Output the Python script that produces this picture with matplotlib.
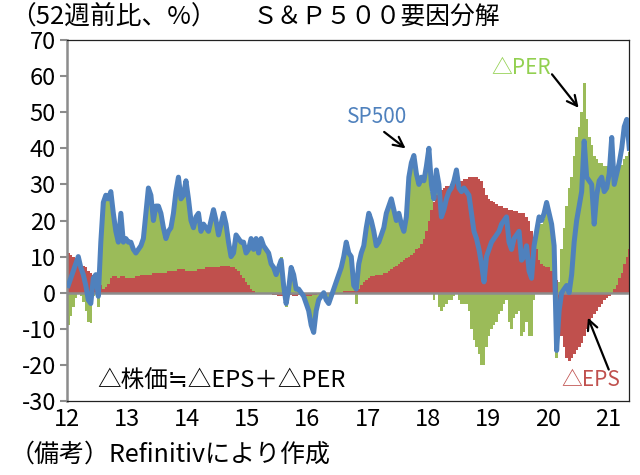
import matplotlib
matplotlib.use("Agg")
import matplotlib.pyplot as plt
import numpy as np

plt.rcParams["font.family"] = ["Noto Sans CJK JP", "DejaVu Sans"]
plt.rcParams["axes.unicode_minus"] = False

# half-monthly points from Jan 2012 to early May 2021 (52-week change, %)
start_year = 2012
steps_per_year = 24

sp500 = [
    # 2012
    2, 4, 6, 8, 10, 7, 5, 2, -2, -3, 4, 5, -1, 14, 25, 27, 26, 28, 22, 17, 14, 22, 14, 15,
    # 2013
    14, 14, 12, 11, 12, 13, 15, 22, 29, 27, 20, 24, 24, 22, 18, 15, 17, 18, 22, 28, 32, 26, 27, 31,
    # 2014
    26, 20, 18, 21, 22, 17, 19, 18, 17, 20, 23, 20, 16, 19, 22, 19, 14, 10, 11, 16, 15, 14, 14, 11,
    # 2015
    12, 15, 12, 15, 11, 15, 13, 12, 11, 8, 7, 5, 7, 9, 2, -3, 1, 7, 5, 1, 1, 0, -1, -3,
    # 2016
    -5, -9, -11, -5, -2, -1, 0, -2, -3, -1, 1, 3, 5, 7, 10, 14, 11, 10, 2, 1, 8, 11, 13, 18,
    # 2017
    22, 20, 17, 13, 14, 16, 18, 22, 24, 26, 23, 20, 22, 19, 17, 21, 32, 36, 38, 33, 30, 32, 31, 35,
    # 2018
    40, 30, 26, 34, 30, 21, 23, 26, 28, 29, 31, 34, 29, 28, 29, 28, 27, 22, 17, 15, 12, 8, 3, 10,
    # 2019
    12, 14, 15, 16, 17, 19, 20, 21, 14, 12, 15, 16, 17, 9, 10, 13, 6, 4, 13, 17, 21, 20, 22, 25,
    # 2020
    22, 19, 13, -16, -5, 0, 1, 2, 0, 5, 14, 20, 24, 28, 42, 32, 31, 30, 19, 27, 31, 32, 28, 29,
    # 2021
    33, 43, 30, 33, 36, 40, 46, 48, 40,
]

eps = [
    # 2012
    11, 10.5, 10, 9.5, 9, 8, 7.5, 7, 6, 5.5, 5, 4, 3, 2, 1, 1.5, 2.5, 4, 4.5, 4.5, 4, 4.5, 4.5, 4,
    # 2013
    4, 4, 4, 4.5, 4.5, 5, 5, 5, 5, 5, 5.5, 5.5, 5.5, 5.5, 5.5, 5.5, 6, 6, 6, 6, 6.5, 6.5, 6.5, 6,
    # 2014
    6, 6, 6, 6, 6.5, 6.5, 6.5, 7, 7, 7, 7, 7, 7, 7.5, 7.5, 7.5, 7.5, 7, 7, 6.5, 6, 5, 4, 3,
    # 2015
    2, 1, 0.5, 0, 0, 0, 0, 0, 0, 0, -0.5, -0.5, -1, -1, 0.5, 1, 1, -0.5, -1, -1, -0.5, -0.5, -1, -1,
    # 2016
    -1, -1, -0.5, -0.5, 0, 0, 0, 0, 0, 0, 0, 0, 0, 0, 0.5, 0.5, 0.5, 0.5, 0.5, 0.5, 1, 2, 3, 3.5,
    # 2017
    4, 4.5, 4.5, 5, 5, 5, 5.5, 5.5, 6, 6.5, 7, 7.5, 8, 8.5, 9, 9.5, 10, 10.5, 11, 12, 12.5, 13.5, 15, 17,
    # 2018
    20, 23, 25, 27, 28, 28.5, 29, 29.5, 29.5, 30, 30, 30.5, 31, 31, 31.5, 31.5, 32, 32, 32, 32, 31.5, 31, 29, 27,
    # 2019
    26, 25.5, 25, 24.5, 24, 24, 23.5, 23.5, 23, 23, 22.5, 22.5, 22, 22, 22, 21, 20, 17, 15, 12, 9, 8, 7.5, 7,
    # 2020
    7, 6, 5, 3.5, -6, -12, -15, -18, -19, -18, -17, -16, -15, -14, -12, -10, -9, -7, -6, -5, -4, -3, -2, -1.5,
    # 2021
    -1, 0, 1, 2, 4, 5.5, 8, 10, 12,
]

per = [
    # 2012
    -9, -6.5, -4, -1.5, 1, -1, -2.5, -5, -8, -8.5, -1, 1, -4, 12, 24, 25.5, 23.5, 24, 17.5, 12.5, 10, 17.5, 9.5, 11,
    # 2013
    10, 10, 8, 6.5, 7.5, 8, 10, 17, 24, 22, 14.5, 18.5, 18.5, 16.5, 12.5, 9.5, 11, 12, 16, 22, 25.5, 19.5, 20.5, 25,
    # 2014
    20, 14, 12, 15, 15.5, 10.5, 12.5, 11, 10, 13, 16, 13, 9, 11.5, 14.5, 11.5, 6.5, 3, 4, 9.5, 9, 9, 10, 8,
    # 2015
    10, 14, 11.5, 15, 11, 15, 13, 12, 11, 8, 7.5, 5.5, 8, 10, 1.5, -4, 0, 7.5, 6, 2, 1.5, 0.5, 0, -2,
    # 2016
    -4, -8, -10.5, -4.5, -2, -1, 0, -2, -3, -1, 1, 3, 5, 7, 9.5, 13.5, 10.5, 9.5, 1.5, -3, 7, 9, 10, 14.5,
    # 2017
    18, 15.5, 12.5, 8, 9, 11, 12.5, 16.5, 18, 19.5, 16, 12.5, 14, 10.5, 8, 11.5, 22, 25.5, 27, 21, 17.5, 18.5, 16, 18,
    # 2018
    18, 5, -2, 3, -4, -5, -4, -3, -2, -2, -1, 2, -2, -3, -3, -3, -5, -10, -13, -15, -17, -20, -20, -15,
    # 2019
    -12, -10, -9, -8, -6, -5, -3, -2, -8, -10, -7, -6, -5, -12, -11, -8, -12, -12, -2, 4, 11, 11, 13, 16,
    # 2020
    15, 13, 8, -18, 3, 12, 18, 24, 29, 32, 38, 43, 46, 50, 58, 48, 43, 41, 38, 37, 36, 36, 35, 35,
    # 2021
    36, 35, 31, 31, 30, 30, 29, 28, 27,
]

year_labels = ["12", "13", "14", "15", "16", "17", "18", "19", "20", "21"]

sp500 = np.array(sp500, dtype=float)
eps = np.array(eps, dtype=float)
per = np.array(per, dtype=float)
x = start_year + np.arange(len(sp500)) / steps_per_year
w = 1 / steps_per_year

RED = "#C0504D"
GREEN = "#9BBB59"
BLUE = "#4F81BD"

fig = plt.figure(figsize=(6.4, 4.75), dpi=100, facecolor="white")
ax = fig.add_axes([67 / 640, 74 / 475, 562 / 640, 361 / 475])

# stacked like excel: positives stack upward, negatives downward
per_bottom = np.where(per >= 0, np.maximum(eps, 0), np.minimum(eps, 0))
ax.bar(x, eps, w * 1.05, align="edge", color=RED, linewidth=0, zorder=2)
ax.bar(x, per, w * 1.05, bottom=per_bottom, align="edge", color=GREEN, linewidth=0, zorder=2)
ax.axhline(0, color="#8c8c8c", linewidth=1.8, zorder=3)
ax.plot(x + w / 2, sp500, color=BLUE, linewidth=3.6, solid_joinstyle="round", zorder=4)

ax.set_xlim(2012, 2021.35)
ax.set_ylim(-30, 70)
ax.set_yticks(np.arange(-30, 71, 10))
ax.set_xticks(np.arange(2012, 2022))
ax.set_xticklabels(year_labels)
ax.tick_params(axis="x", length=0, labelsize=17, pad=5)
ax.tick_params(axis="y", direction="out", length=5, width=1.5, color="#8c8c8c", labelsize=17, pad=3)
for s in ["top", "right", "bottom"]:
    ax.spines[s].set_color("#222222")
    ax.spines[s].set_linewidth(0.9)
ax.spines["left"].set_color("#8c8c8c")
ax.spines["left"].set_linewidth(1.8)

# labels and arrows
arrow = dict(arrowstyle="->", color="black", lw=1.6, mutation_scale=18)
ax.annotate("", xy=(2017.67, 39.5), xytext=(2017.24, 45), arrowprops=arrow, zorder=5)
ax.text(2017.16, 48.6, "SP500", color=BLUE, fontsize=15, ha="center", va="center")
ax.annotate("", xy=(2020.54, 50.6), xytext=(2020.04, 61.1), arrowprops=arrow, zorder=5)
ax.text(2019.55, 62.2, "△PER", color="#92D050", fontsize=15, ha="center", va="center")
ax.annotate("", xy=(2020.65, -6.2), xytext=(2021.03, -22), arrowprops=arrow, zorder=5)
ax.text(2020.72, -24.2, "△EPS", color=RED, fontsize=15, ha="center", va="center")
ax.text(2012.5, -24.2, "△株価≒△EPS＋△PER", color="black", fontsize=17, ha="left", va="center")

fig.text(10 / 640, 1 - 17 / 475, "（52週前比、%）", fontsize=18.5, ha="left", va="center")
fig.text(253 / 640, 1 - 17 / 475, "Ｓ＆Ｐ５００要因分解", fontsize=17.8, ha="left", va="center")
fig.text(10 / 640, 1 - 455 / 475, "（備考）Refinitivにより作成", fontsize=18, ha="left", va="center")

fig.savefig("out.png", dpi=100, facecolor="white")
